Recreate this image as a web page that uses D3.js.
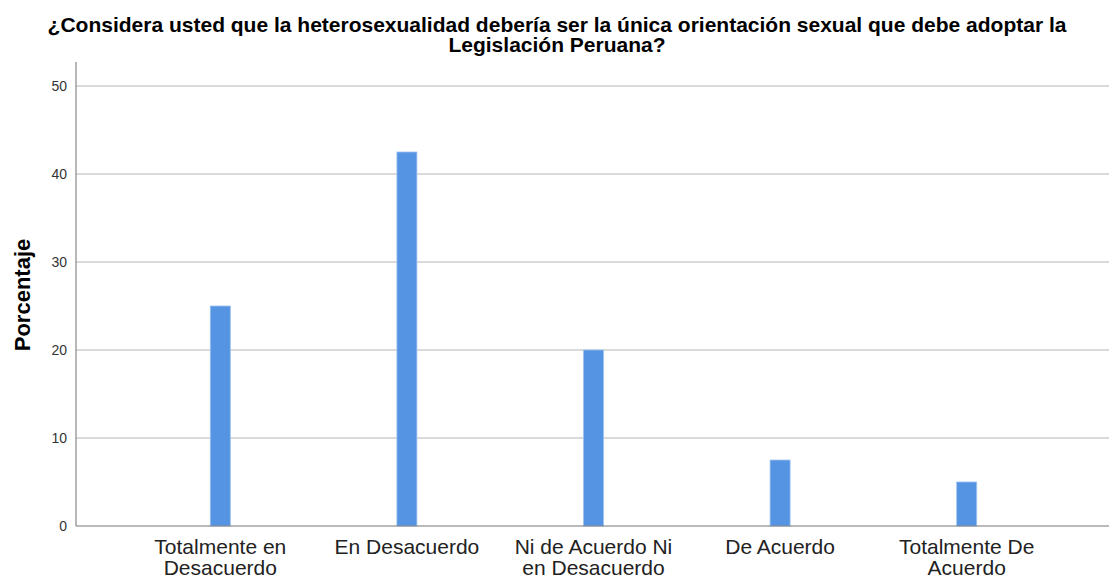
<!DOCTYPE html>
<html><head><meta charset="utf-8">
<script src="https://cdn.jsdelivr.net/npm/d3@7"></script>
<style>body{margin:0;background:#fff}svg{display:block}text{font-family:"Liberation Sans",Arial,sans-serif}</style>
</head><body>
<svg id="c" width="1109" height="578"></svg>
<script>
const categories = [["Totalmente en","Desacuerdo"],["En Desacuerdo"],["Ni de Acuerdo Ni","en Desacuerdo"],["De Acuerdo"],["Totalmente De","Acuerdo"]];
const values = [25, 42.5, 20, 7.5, 5];
const yTicks = [0,10,20,30,40,50];
const titleLines = ["¿Considera usted que la heterosexualidad debería ser la única orientación sexual que debe adoptar la","Legislación Peruana?"];
const yLabel = "Porcentaje";

(function(){
const svg = d3.select("#c");
const pL = 76, pR = 1109, pT = 62, pB = 526;
const y = d3.scaleLinear().domain([0,50]).range([pB, 86]);
const x = d3.scaleBand().domain(d3.range(values.length)).range([127, 1060]);

svg.append("g").selectAll("line").data(yTicks.filter(d=>d>0)).join("line")
  .attr("x1", pL).attr("x2", pR).attr("y1", d=>y(d)).attr("y2", d=>y(d))
  .attr("stroke", "#b4b4b4").attr("stroke-width", 1);

const ya = svg.append("g").attr("transform", `translate(${pL},0)`)
  .call(d3.axisLeft(y).tickValues(yTicks).tickSize(0).tickPadding(9));
ya.select(".domain").remove();
ya.selectAll("text").attr("font-size", 14).attr("fill", "#333").attr("font-family", "Liberation Sans, Arial, sans-serif");
svg.append("line").attr("x1", pL).attr("x2", pL).attr("y1", pT).attr("y2", pB)
  .attr("stroke", "#888").attr("stroke-width", 1.2);

const bw = 20;
svg.append("g").selectAll("rect").data(values).join("rect")
  .attr("x", (d,i)=>x(i) + x.bandwidth()/2 - bw/2)
  .attr("y", d=>y(d)).attr("width", bw).attr("height", d=>pB - y(d))
  .attr("fill", "#5594e2").attr("stroke", "#9cc1f0").attr("stroke-width", 0.8);

svg.append("line").attr("x1", pL).attr("x2", pR).attr("y1", pB).attr("y2", pB)
  .attr("stroke", "#777").attr("stroke-width", 1.2);
const xl = svg.append("g").selectAll("text").data(categories).join("text")
  .attr("text-anchor", "middle").attr("font-size", 21).attr("fill", "#222")
  .attr("transform", (d,i)=>`translate(${x(i)+x.bandwidth()/2},554)`);
xl.selectAll("tspan").data(d=>d).join("tspan").attr("x", 0).attr("dy", (d,i)=>i? 20.5:0).text(d=>d);

svg.append("text").attr("text-anchor","middle").attr("font-size",21).attr("font-weight","bold").attr("fill","#000")
  .selectAll("tspan").data(titleLines).join("tspan").attr("x", 557).attr("y",(d,i)=>32+i*20).text(d=>d);

svg.append("text").attr("transform","translate(30,295) rotate(-90)").attr("text-anchor","middle")
  .attr("font-size",22).attr("font-weight","bold").attr("fill","#000").text(yLabel);
})();
</script>
</body></html>
